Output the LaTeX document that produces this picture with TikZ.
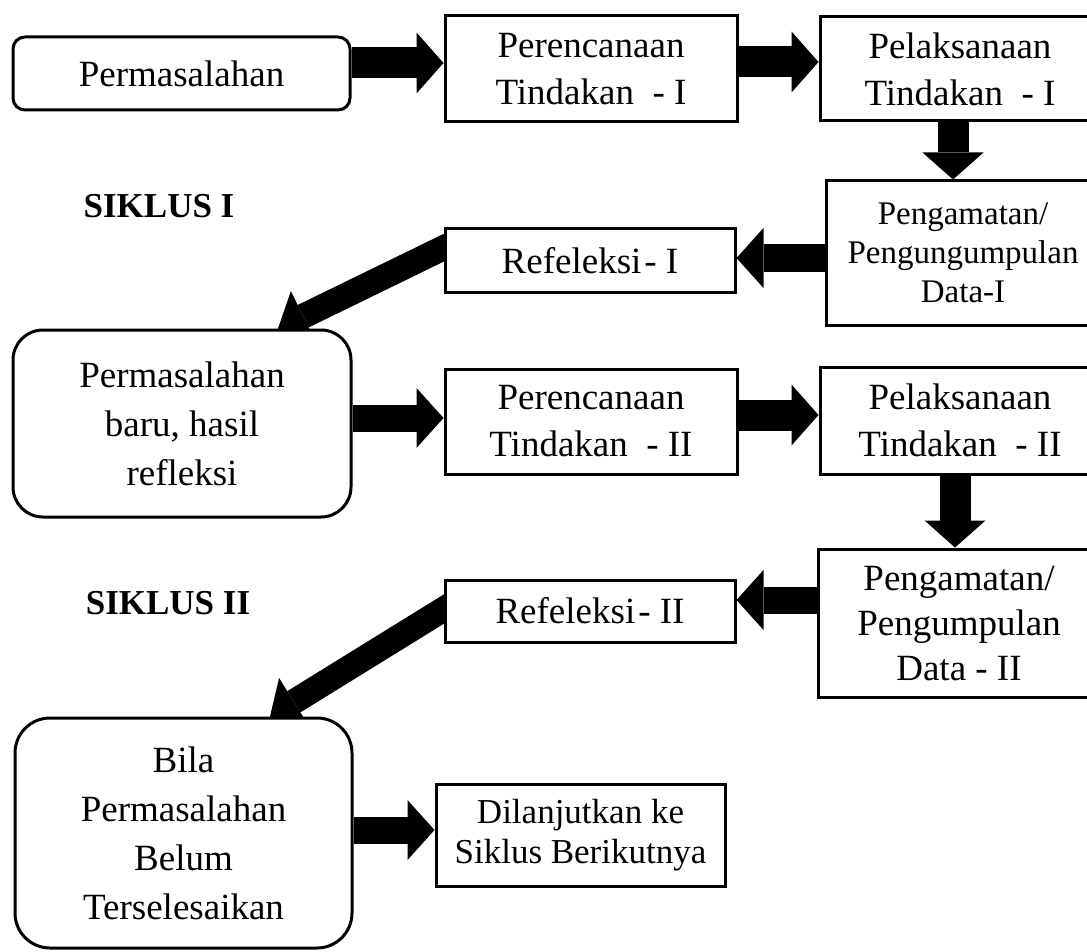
\documentclass[tikz,border=0pt]{standalone}
\usepackage{fontspec}
\setmainfont{Liberation Serif}
\usetikzlibrary{arrows.meta,backgrounds}
\begin{document}
\begin{tikzpicture}[x=1pt,y=-1pt,
  box/.style={draw, line width=3pt, fill=white, align=center, inner sep=0pt,
    font=\fontsize{37}{47}\selectfont},
  blk/.style={line width=31pt, -{Triangle[width=61pt,length=27pt,line width=0pt]}},
  blks/.style={line width=27pt, -{Triangle[width=60pt,length=27pt,line width=0pt]}},
  diag/.style={line width=25pt, -{Triangle[width=56pt,length=28pt,line width=0pt]}},
  lbl/.style={font=\fontsize{35}{40}\selectfont\bfseries, inner sep=0pt}
]
\useasboundingbox (0,0) rectangle (1087,952);
\clip (0,0) rectangle (1087,952);

% boxes
\node[box, minimum width=337pt, minimum height=73pt, rounded corners=12pt] (A) at (181.5,73.5) {Permasalahan};
\node[box, minimum width=292pt, minimum height=106pt] (B) at (591,69) {Perencanaan\\Tindakan\ \ - I};
\node[box, minimum width=280pt, minimum height=104pt] (C) at (960,69) {Pelaksanaan\\Tindakan\ \ - I};
\node[box, minimum width=274pt, minimum height=144pt, font=\fontsize{33}{39}\selectfont] (D) at (963,253) {Pengamatan/\\Pengungumpulan\\Data-I};
\node[box, minimum width=290pt, minimum height=63pt] (E) at (590,260.5) {Refeleksi\hspace{0.08em}- I};
\node[box, minimum width=338pt, minimum height=187pt, rounded corners=30pt, font=\fontsize{37}{49}\selectfont] (F) at (182,423.5) {Permasalahan\\baru, hasil\\refleksi};
\node[box, minimum width=292pt, minimum height=105pt] (G) at (591,421.5) {Perencanaan\\Tindakan\ \ - II};
\node[box, minimum width=280pt, minimum height=107pt] (H) at (960,420.5) {Pelaksanaan\\Tindakan\ \ - II};
\node[box, minimum width=282pt, minimum height=148pt, font=\fontsize{37}{45}\selectfont] (I) at (959,623) {Pengamatan/\\Pengumpulan\\Data - II};
\node[box, minimum width=290pt, minimum height=62pt] (J) at (590,611) {Refeleksi\hspace{0.08em}- II};
\node[box, minimum width=337pt, minimum height=230pt, rounded corners=35pt, font=\fontsize{37}{49}\selectfont] (K) at (183.5,833) {Bila\\Permasalahan\\Belum\\Terselesaikan};
\node[box, minimum width=289pt, minimum height=102pt, font=\fontsize{35}{40}\selectfont] (L) at (580.5,835) {Dilanjutkan ke\\Siklus Berikutnya};

\node[lbl] (S1) at (159,206) {SIKLUS I};
\node[lbl] (S2) at (168,603) {SIKLUS II};

% connectors
\coordinate (e1) at ([xshift=15pt,yshift=20pt]E.west);
\coordinate (j1) at ([xshift=15pt,yshift=11pt]J.west);
\begin{pgfonlayer}{background}
\fill[white] (0,0) rectangle (1087,952);
\draw[blk] (A.east |- 0,63) -- (B.west |- 0,63);
\draw[blk] (B.east |- 0,62) -- (C.west |- 0,62);
\draw[blk] (C.south -| 953,0) -- (D.north -| 953,0);
\draw[blks] (D.west |- 0,258) -- (E.east |- 0,258);
\draw[diag] (e1) -- (278,0 |- F.north);
\draw[blks] (F.east |- 0,418) -- (G.west |- 0,418);
\draw[blk] (G.east |- 0,415) -- (H.west |- 0,415);
\draw[blk] (H.south -| 955,0) -- (I.north -| 955,0);
\draw[blks] (I.west |- 0,600) -- (J.east |- 0,600);
\draw[diag] (j1) -- (270,0 |- K.north);
\draw[blks] (K.east |- 0,830) -- (L.west |- 0,830);
\end{pgfonlayer}
\end{tikzpicture}
\end{document}
